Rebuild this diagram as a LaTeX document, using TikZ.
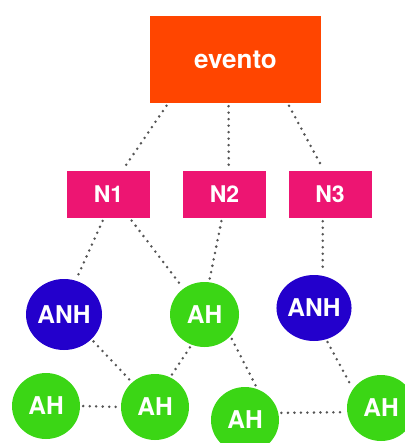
\documentclass[tikz,border=0pt]{standalone}
\usepackage{fontspec}
\setmainfont{TeX Gyre Heros}
\usetikzlibrary{shapes}
\definecolor{evorange}{RGB}{255,69,0}
\definecolor{npink}{RGB}{237,21,114}
\definecolor{anhblue}{RGB}{35,0,204}
\definecolor{ahgreen}{RGB}{59,214,21}
\definecolor{dotgray}{RGB}{85,85,85}
\tikzstyle{nbox} = [rectangle, fill=npink, text=white, inner sep=0pt,
font=\bfseries\fontsize{23}{25}\selectfont, minimum width=83pt, minimum height=47pt]
\tikzstyle{evbox} = [nbox, fill=evorange, minimum width=171pt, minimum height=87pt,
font=\bfseries\fontsize{26}{28}\selectfont]
\tikzstyle{anh} = [ellipse, fill=anhblue, text=white, inner sep=0pt,
font=\bfseries\fontsize{24.5}{26}\selectfont, minimum width=76pt, minimum height=71pt]
\tikzstyle{ah} = [anh, fill=ahgreen, minimum width=68pt, minimum height=66pt]
\tikzstyle{link} = [draw=dotgray, line width=2.8pt, line cap=round,
dash pattern=on 0pt off 6.5pt, shorten <=3pt, shorten >=3pt]

\begin{document}
\begin{tikzpicture}[x=1pt, y=-1pt]
\useasboundingbox (0,0) rectangle (404,443);
% Place nodes
\node [evbox] (evento) at (235.5,59.5) {evento};
\node [nbox] (n1) at (108.5,194.5) {N1};
\node [nbox] (n2) at (224.5,194.5) {N2};
\node [nbox] (n3) at (330,194.5) {N3};
\node [anh] (anh1) at (64,314.5) {ANH};
\node [ah, minimum width=69pt, minimum height=65pt] (ahmid) at (204.5,314.5) {AH};
\node [anh, minimum width=70pt, minimum height=66pt] (anh3) at (314,308) {ANH};
\node [ah] (ah1) at (46,406) {AH};
\node [ah] (ah2) at (155,407) {AH};
\node [ah] (ah3) at (245,420) {AH};
\node [ah] (ah4) at (381,408) {AH};
% Dotted links
\path [link] (evento.213) -- (n1.60);
\path [link] (evento.261) -- (n2.80);
\path [link] (evento.320) -- (n3.104);
\path [link] (n1.259) -- (anh1.71);
\path [link] (n1.312) -- (ahmid.129);
\path [link] (n2.264) -- (ahmid.82);
\path [link] (n3.253) -- (anh3.75);
\path [link] (anh1.318) -- (ah2.133);
\path [link] (ahmid.247) -- (ah2.63);
\path [link] (ahmid.320) -- (ah3.68);
\path [link] (anh3.291) -- (ah4.146);
\path [link] (ah1.east) -- (ah2.west);
\path [link] (ah3.12) -- (ah4.187);
\end{tikzpicture}
\end{document}
